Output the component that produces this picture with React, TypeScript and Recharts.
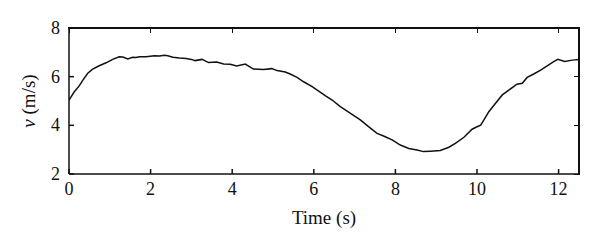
import { LineChart, Line, XAxis, YAxis, Label } from 'recharts';

const times = [
  0, 0.13, 0.25, 0.34, 0.46, 0.58, 0.74, 0.91, 1.07, 1.23, 1.32, 1.44, 1.56, 1.64, 1.73, 1.89,
  2.09, 2.22, 2.34, 2.42, 2.55, 2.71, 2.87, 3.0, 3.09, 3.26, 3.42, 3.62, 3.79, 3.95, 4.11,
  4.32, 4.52, 4.77, 4.97, 5.1, 5.3, 5.42, 5.59, 5.75, 5.96, 6.12, 6.28, 6.45, 6.65, 6.9,
  7.14, 7.35, 7.55, 7.71, 7.92, 8.12, 8.33, 8.53, 8.69, 8.86, 9.1, 9.31, 9.47, 9.68, 9.88,
  10.0, 10.09, 10.17, 10.29, 10.45, 10.62, 10.78, 10.98, 11.11, 11.23, 11.39, 11.56, 11.72,
  11.88, 11.98, 12.15, 12.34, 12.5,
];

const speeds = [
  5.04, 5.38, 5.62, 5.86, 6.14, 6.31, 6.45, 6.57, 6.71, 6.82, 6.81, 6.73, 6.8, 6.79, 6.82, 6.82,
  6.86, 6.85, 6.88, 6.86, 6.8, 6.77, 6.75, 6.71, 6.66, 6.71, 6.58, 6.6, 6.52, 6.51, 6.44,
  6.52, 6.31, 6.29, 6.33, 6.25, 6.19, 6.11, 5.97, 5.79, 5.59, 5.41, 5.22, 5.04, 4.77, 4.49,
  4.22, 3.94, 3.67, 3.56, 3.4, 3.19, 3.05, 2.99, 2.92, 2.94, 2.97, 3.1, 3.26, 3.51, 3.84,
  3.94, 4.01, 4.22, 4.56, 4.9, 5.25, 5.45, 5.69, 5.73, 5.97, 6.11, 6.27, 6.44,
  6.62, 6.71, 6.62, 6.68, 6.71,
];

const xTicks = [0, 2, 4, 6, 8, 10, 12];
const yTicks = [2, 4, 6, 8];
const xDomain = [0, 12.5];
const yDomain = [2, 8];

const data = times.map((t, i) => ({ t, v: speeds[i] }));

const FONT = '"Liberation Serif", "DejaVu Serif", serif';
const INK = '#111';

// plot box in chart coords
const BOX = { left: 61, top: 20, right: 571, bottom: 166 };

function XTick({ x, payload }: any) {
  return (
    <text
      x={x}
      y={BOX.bottom + 15}
      textAnchor="middle"
      dominantBaseline="central"
      fontFamily={FONT}
      fontSize={18}
      fill={INK}
    >
      {payload.value}
    </text>
  );
}

function YTick({ y, payload }: any) {
  return (
    <text
      x={BOX.left - 9}
      y={y}
      textAnchor="end"
      dominantBaseline="central"
      fontFamily={FONT}
      fontSize={18}
      fill={INK}
    >
      {payload.value}
    </text>
  );
}

function YTitle({ viewBox }: any) {
  const cx = 20;
  const cy = viewBox.y + viewBox.height / 2;
  return (
    <text
      x={cx}
      y={cy}
      transform={`rotate(-90 ${cx} ${cy})`}
      textAnchor="middle"
      dominantBaseline="central"
      fontFamily={FONT}
      fontSize={19}
      fill={INK}
    >
      <tspan fontStyle="italic">v</tspan>
      <tspan> (m/s)</tspan>
    </text>
  );
}

function XTitle({ viewBox }: any) {
  return (
    <text
      x={viewBox.x + viewBox.width / 2}
      y={viewBox.y + 43}
      textAnchor="middle"
      dominantBaseline="central"
      fontFamily={FONT}
      fontSize={19}
      fill={INK}
    >
      Time (s)
    </text>
  );
}

// top and right edges of the frame with inward ticks
function Frame() {
  const w = BOX.right - BOX.left;
  const h = BOX.bottom - BOX.top;
  const px = (t: number) => BOX.left + ((t - xDomain[0]) / (xDomain[1] - xDomain[0])) * w;
  const py = (v: number) => BOX.bottom - ((v - yDomain[0]) / (yDomain[1] - yDomain[0])) * h;
  const line = { position: 'absolute' as const, background: INK, pointerEvents: 'none' as const };
  return (
    <>
      <div style={{ ...line, left: BOX.left - 0.75, top: BOX.top - 0.75, width: w + 1.5, height: 1.5 }} />
      <div style={{ ...line, left: BOX.right - 0.75, top: BOX.top - 0.75, width: 1.5, height: h + 1.5 }} />
      {xTicks.map((t) => (
        <div key={`tx${t}`} style={{ ...line, left: px(t) - 0.5, top: BOX.top, width: 1, height: 5 }} />
      ))}
      {yTicks.map((v) => (
        <div key={`ty${v}`} style={{ ...line, left: BOX.right - 5, top: py(v) - 0.5, width: 5, height: 1 }} />
      ))}
    </>
  );
}

export default function App() {
  return (
    <div style={{ position: 'relative', width: 584, height: 231 }}>
      <LineChart
        width={584}
        height={231}
        data={data}
        margin={{ top: BOX.top, right: 584 - BOX.right, bottom: 0, left: 0 }}
      >
        <XAxis
          dataKey="t"
          type="number"
          domain={xDomain}
          ticks={xTicks}
          orientation="bottom"
          height={65}
          stroke={INK}
          strokeWidth={1.5}
          tickSize={-5}
          tick={<XTick />}
          interval={0}
          allowDataOverflow
        >
          <Label content={<XTitle />} />
        </XAxis>
        <YAxis
          type="number"
          domain={yDomain}
          ticks={yTicks}
          width={BOX.left}
          stroke={INK}
          strokeWidth={1.5}
          tickSize={-5}
          tick={<YTick />}
          interval={0}
        >
          <Label content={<YTitle />} />
        </YAxis>
        <Line
          dataKey="v"
          type="linear"
          stroke={INK}
          strokeWidth={1.5}
          dot={false}
          isAnimationActive={false}
        />
      </LineChart>
      <Frame />
    </div>
  );
}
